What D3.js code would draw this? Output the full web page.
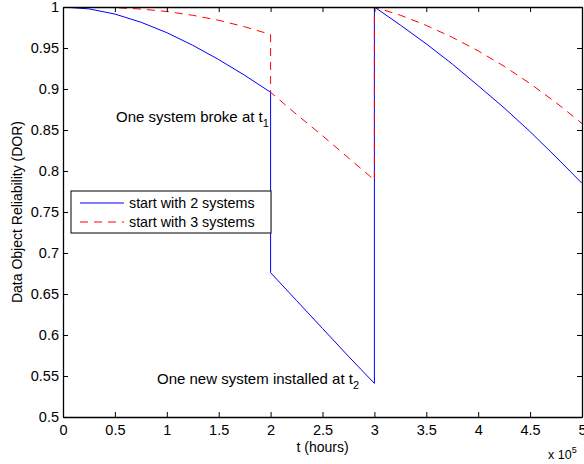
<!DOCTYPE html>
<html>
<head>
<meta charset="utf-8">
<script src="https://cdn.jsdelivr.net/npm/d3@7"></script>
<style>
  body { margin: 0; background: #fff; }
  svg { font-family: "Liberation Sans", Arial, sans-serif; }
  .axis path, .axis line { stroke: #000; }
  .axis text { font-size: 14.5px; fill: #000; }
</style>
</head>
<body>
<script>
// time in units of 1e5 hours, three phases: before t1, t1..t2, after t2
const tPhase1 = [0, 0.25, 0.5, 0.75, 1, 1.25, 1.5, 1.75, 2]
const twoSys1 = [1, 0.9977, 0.9914, 0.9815, 0.9687, 0.9533, 0.9359, 0.9167, 0.896]
const threeSys1 = [1, 0.9999, 0.9992, 0.9975, 0.9945, 0.9899, 0.9838, 0.9759, 0.9665]

const tPhase2 = [2, 2.25, 2.5, 2.75, 3]
const twoSys2 = [0.676, 0.642, 0.608, 0.574, 0.541]
const threeSys2 = [0.896, 0.869, 0.843, 0.816, 0.789]

const tPhase3 = [3, 3.25, 3.5, 3.75, 4, 4.25, 4.5, 4.75, 5]
const twoSys3 = [1, 0.978, 0.955, 0.9305, 0.904, 0.877, 0.848, 0.817, 0.785]
const threeSys3 = [1, 0.99, 0.9776, 0.963, 0.9465, 0.9277, 0.9066, 0.8834, 0.858]

const xTicks = [0, 0.5, 1, 1.5, 2, 2.5, 3, 3.5, 4, 4.5, 5]
const yTicks = [0.5, 0.55, 0.6, 0.65, 0.7, 0.75, 0.8, 0.85, 0.9, 0.95, 1]
const seriesNames = ['start with 2 systems', 'start with 3 systems']

const zip = (ts, vs) => ts.map((t, i) => ({ t: t, v: vs[i] }))
const series = [
    { name: seriesNames[0], color: '#0000ff', dash: null,
      values: zip(tPhase1, twoSys1).concat(zip(tPhase2, twoSys2), zip(tPhase3, twoSys3)) },
    { name: seriesNames[1], color: '#ff0000', dash: '8,6',
      values: zip(tPhase1, threeSys1).concat(zip(tPhase2, threeSys2), zip(tPhase3, threeSys3)) }
]

const margin = { top: 7, right: 2, bottom: 47, left: 63 }
const W = 584, H = 464
const width = W - margin.left - margin.right
const height = H - margin.top - margin.bottom

const svg = d3.select('body').append('svg')
    .attr('width', W)
    .attr('height', H)
const g = svg.append('g')
    .attr('transform', `translate(${margin.left},${margin.top})`)

const x = d3.scaleLinear().domain([0, 5]).range([0, width])
const y = d3.scaleLinear().domain([0.5, 1]).range([height, 0])

g.append('clipPath').attr('id', 'clip')
    .append('rect').attr('width', width).attr('height', height)

const line = d3.line()
    .x(d => x(d.t))
    .y(d => y(d.v))

g.append('g').attr('clip-path', 'url(#clip)')
    .selectAll('path')
    .data(series)
    .enter().append('path')
    .attr('d', d => line(d.values))
    .attr('fill', 'none')
    .attr('stroke', d => d.color)
    .attr('stroke-width', 1)
    .attr('stroke-dasharray', d => d.dash)

// axes, matlab style: ticks inside on all four sides
const fmt = d => String(+d.toFixed(2))
g.append('g').attr('class', 'axis')
    .attr('transform', `translate(0,${height})`)
    .call(d3.axisBottom(x).tickValues(xTicks).tickFormat(fmt).tickSizeInner(-5).tickSizeOuter(0).tickPadding(8))
g.append('g').attr('class', 'axis')
    .call(d3.axisTop(x).tickValues(xTicks).tickFormat('').tickSizeInner(-5).tickSizeOuter(0))
g.append('g').attr('class', 'axis')
    .call(d3.axisLeft(y).tickValues(yTicks).tickFormat(fmt).tickSizeInner(-5).tickSizeOuter(0).tickPadding(4))
g.append('g').attr('class', 'axis')
    .attr('transform', `translate(${width},0)`)
    .call(d3.axisRight(y).tickValues(yTicks).tickFormat('').tickSizeInner(-5).tickSizeOuter(0))
g.selectAll('.axis .domain').attr('stroke-width', 1.3)

// labels
svg.append('text')
    .attr('x', margin.left + width / 2).attr('y', 452)
    .attr('text-anchor', 'middle').attr('font-size', 14)
    .text('t (hours)')
svg.append('text')
    .attr('transform', `translate(22,${margin.top + height / 2}) rotate(-90)`)
    .attr('text-anchor', 'middle').attr('font-size', 14)
    .text('Data Object Reliability (DOR)')
const expo = svg.append('text').attr('x', 548).attr('y', 459).attr('font-size', 12.5)
expo.append('tspan').text('x 10')
expo.append('tspan').attr('dy', -6.5).attr('font-size', 9).text('5')

// annotations
const ann1 = svg.append('text').attr('x', 116).attr('y', 122).attr('font-size', 15)
ann1.append('tspan').text('One system broke at t')
ann1.append('tspan').attr('dy', 5).attr('font-size', 11).text('1')
const ann2 = svg.append('text').attr('x', 157).attr('y', 384).attr('font-size', 15)
ann2.append('tspan').text('One new system installed at t')
ann2.append('tspan').attr('dy', 5).attr('font-size', 11).text('2')

// legend
const legend = svg.append('g').attr('transform', 'translate(71,191)')
legend.append('rect')
    .attr('width', 200).attr('height', 42)
    .attr('fill', '#fff').attr('stroke', '#000').attr('stroke-width', 1)
const items = legend.selectAll('g.item')
    .data(series)
    .enter().append('g')
    .attr('class', 'item')
    .attr('transform', (d, i) => `translate(0,${12 + i * 19})`)
items.append('line')
    .attr('x1', 9).attr('x2', 53)
    .attr('stroke', d => d.color)
    .attr('stroke-dasharray', d => d.dash)
items.append('text')
    .attr('x', 58).attr('y', 5)
    .attr('font-size', 14.3)
    .text(d => d.name)
</script>
</body>
</html>
